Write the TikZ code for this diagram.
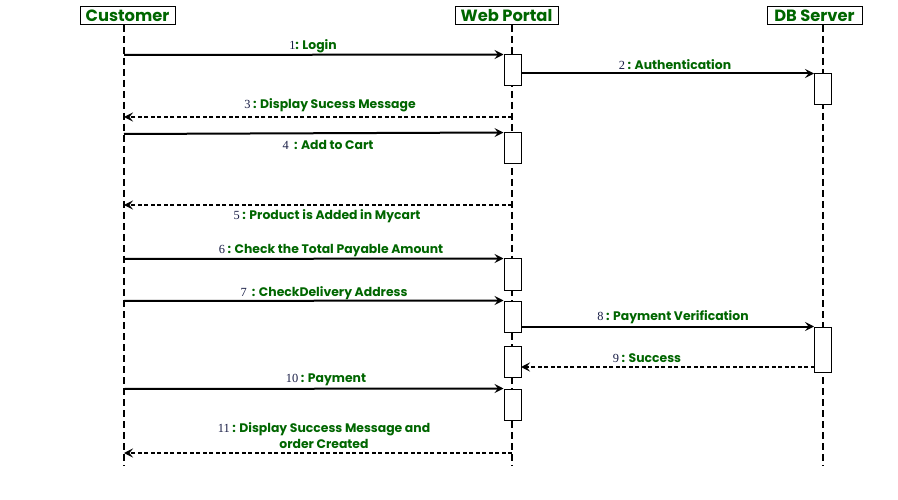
\documentclass[tikz,border=0pt]{standalone}
\usepackage{fontspec}
\setmainfont{Poppins}
\newfontfamily\numfont{Liberation Serif}
\usetikzlibrary{arrows.meta}
\definecolor{lblgreen}{RGB}{0,102,0}
\definecolor{numblue}{RGB}{25,30,70}
\newcommand{\nm}[1]{{\numfont\mdseries\color{numblue}#1}}
\begin{document}
\begin{tikzpicture}[x=1pt,y=-1pt,
  head/.style={draw=black, line width=1pt, inner sep=0pt, minimum height=18pt,
    font=\fontsize{16.3}{18}\selectfont\bfseries, text=lblgreen},
  life/.style={draw=black, line width=1.8pt, dash pattern=on 7pt off 4pt},
  act/.style={draw=black, fill=white, line width=1pt, minimum width=17pt, inner sep=0pt},
  msg/.style={draw=black, line width=2pt, -{Stealth[length=9pt,width=9pt,inset=3.5pt]}},
  ret/.style={draw=black, line width=1.3pt, dash pattern=on 4pt off 2.5pt,
    -{Stealth[length=9pt,width=9pt,inset=3.5pt]}},
  lbl/.style={inner sep=0pt, text=lblgreen, font=\fontsize{12.4}{16}\selectfont\bfseries, align=center}
]
\useasboundingbox (0,0) rectangle (898,500);
\fill[white] (0,0) rectangle (898,500);

% headers
\node[head, minimum width=95pt] (cust) at (127.5,16) {Customer};
\node[head, minimum width=103pt] (web) at (506.5,16) {Web Portal};
\node[head, minimum width=95pt] (db) at (814.5,16) {DB Server};

% lifeline coordinates
\coordinate (cT) at (124,25);  \coordinate (cB) at (124,466);
\coordinate (wT) at (512,25);  \coordinate (wB) at (512,466);
\coordinate (dT) at (823,25);  \coordinate (dB) at (823,466);
\draw[life] (cT) -- (cB);
\draw[life] (wT) -- (wB);
\draw[life] (dT) -- (dB);

% activation boxes
\node[act, minimum height=31pt] (a1) at (512.5,70.5) {};
\node[act, minimum height=31pt] (a2) at (512.5,148.5) {};
\node[act, minimum height=31pt] (a3) at (512.5,274.5) {};
\node[act, minimum height=31pt] (a4) at (512.5,316.5) {};
\node[act, minimum height=31pt] (a5) at (512.5,361.5) {};
\node[act, minimum height=31pt] (a6) at (512.5,404.5) {};
\node[act, minimum height=31pt] (d1) at (823,89.5) {};
\node[act, minimum height=45pt] (d2) at (823,349.5) {};

% message end coordinates
\coordinate (m1) at (124,55);
\coordinate (m3a) at (512,117); \coordinate (m3b) at (124,117);
\coordinate (m4) at (124,134);
\coordinate (m5a) at (512,205); \coordinate (m5b) at (124,205);
\coordinate (m6) at (124,259);
\coordinate (m7) at (124,301);
\coordinate (m9a) at (814.5,367); \coordinate (m9b) at (521,367);
\coordinate (m10) at (124,389);
\coordinate (m11a) at (512,453); \coordinate (m11b) at (124,453);

% messages
\draw[msg] (m1) -- (a1.north west);
\draw[msg] (a1.east |- d1.north west) -- (d1.north west);
\draw[ret] (m3a) -- (m3b);
\draw[msg] (m4) -- (a2.north west);
\draw[ret] (m5a) -- (m5b);
\draw[msg] (m6) -- (a3.north west);
\draw[msg] (m7) -- (a4.north west);
\draw[msg] (a4.east |- d2.north west) -- (d2.north west);
\draw[ret] (m9a) -- (m9b);
\draw[msg] (m10) -- (a6.north west);
\draw[ret] (m11a) -- (m11b);

% labels
\node[lbl] (l1) at (313,46) {\nm{1}: Login};
\node[lbl] (l2) at (675,65) {\nm{2} : Authentication};
\node[lbl] (l3) at (330,105) {\nm{3} : Display Sucess Message};
\node[lbl] (l4) at (328,145) {\nm{4}\ \ : Add to Cart};
\node[lbl] (l5) at (327,216) {\nm{5} : Product is Added in Mycart};
\node[lbl] (l6) at (331,251) {\nm{6} : Check the Total Payable Amount};
\node[lbl] (l7) at (324,293) {\nm{7}\ \ : CheckDelivery Address};
\node[lbl] (l8) at (673,317) {\nm{8} : Payment Verification};
\node[lbl] (l9) at (647,358) {\nm{9} : Success};
\node[lbl] (l10) at (326,380) {\nm{10} : Payment};
\node[lbl] (l11) at (324,436) {\nm{11} : Display Success Message and\\order Created};
\end{tikzpicture}
\end{document}
